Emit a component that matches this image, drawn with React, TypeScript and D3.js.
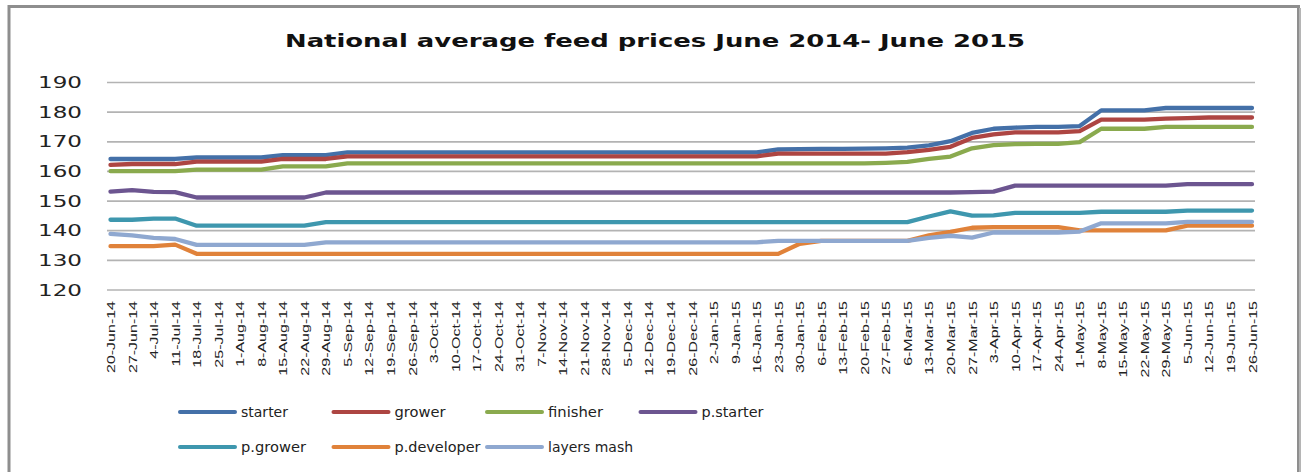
import React from "react";
import * as d3 from "d3";

// weekly dates on the category axis
const dates = [
  "20-Jun-14", "27-Jun-14", "4-Jul-14", "11-Jul-14", "18-Jul-14", "25-Jul-14",
  "1-Aug-14", "8-Aug-14", "15-Aug-14", "22-Aug-14", "29-Aug-14", "5-Sep-14",
  "12-Sep-14", "19-Sep-14", "26-Sep-14", "3-Oct-14", "10-Oct-14", "17-Oct-14",
  "24-Oct-14", "31-Oct-14", "7-Nov-14", "14-Nov-14", "21-Nov-14", "28-Nov-14",
  "5-Dec-14", "12-Dec-14", "19-Dec-14", "26-Dec-14", "2-Jan-15", "9-Jan-15",
  "16-Jan-15", "23-Jan-15", "30-Jan-15", "6-Feb-15", "13-Feb-15", "20-Feb-15",
  "27-Feb-15", "6-Mar-15", "13-Mar-15", "20-Mar-15", "27-Mar-15", "3-Apr-15",
  "10-Apr-15", "17-Apr-15", "24-Apr-15", "1-May-15", "8-May-15", "15-May-15",
  "22-May-15", "29-May-15", "5-Jun-15", "12-Jun-15", "19-Jun-15", "26-Jun-15",
];

const yTicks = [120, 130, 140, 150, 160, 170, 180, 190];

// values, one per week
const starter = [
  164.2, 164.2, 164.2, 164.2, 164.7, 164.7, 164.7, 164.7, 165.5, 165.5,
  165.5, 166.4, 166.4, 166.4, 166.4, 166.4, 166.4, 166.4, 166.4, 166.4,
  166.4, 166.4, 166.4, 166.4, 166.4, 166.4, 166.4, 166.4, 166.4, 166.4,
  166.4, 167.4, 167.5, 167.6, 167.6, 167.7, 167.8, 168.0, 168.8, 170.2,
  173.0, 174.4, 174.8, 175.0, 175.0, 175.3, 180.6, 180.6, 180.6, 181.4,
  181.4, 181.4, 181.4, 181.4,
];
const grower = [
  162.2, 162.5, 162.5, 162.5, 163.3, 163.3, 163.3, 163.3, 164.2, 164.2,
  164.2, 165.1, 165.1, 165.1, 165.1, 165.1, 165.1, 165.1, 165.1, 165.1,
  165.1, 165.1, 165.1, 165.1, 165.1, 165.1, 165.1, 165.1, 165.1, 165.1,
  165.1, 166.0, 166.0, 166.0, 166.0, 166.0, 166.0, 166.5, 167.3, 168.3,
  171.3, 172.5, 173.2, 173.2, 173.2, 173.6, 177.5, 177.5, 177.5, 177.8,
  178.0, 178.2, 178.2, 178.2,
];
const finisher = [
  160.1, 160.1, 160.1, 160.1, 160.6, 160.6, 160.6, 160.6, 161.7, 161.7,
  161.7, 162.7, 162.7, 162.7, 162.7, 162.7, 162.7, 162.7, 162.7, 162.7,
  162.7, 162.7, 162.7, 162.7, 162.7, 162.7, 162.7, 162.7, 162.7, 162.7,
  162.7, 162.7, 162.7, 162.7, 162.7, 162.7, 162.9, 163.2, 164.2, 165.0,
  167.8, 168.9, 169.2, 169.3, 169.3, 169.9, 174.4, 174.4, 174.4, 175.0,
  175.0, 175.0, 175.0, 175.0,
];
const pStarter = [
  153.2, 153.7, 153.1, 153.0, 151.2, 151.2, 151.2, 151.2, 151.2, 151.2,
  152.9, 152.9, 152.9, 152.9, 152.9, 152.9, 152.9, 152.9, 152.9, 152.9,
  152.9, 152.9, 152.9, 152.9, 152.9, 152.9, 152.9, 152.9, 152.9, 152.9,
  152.9, 152.9, 152.9, 152.9, 152.9, 152.9, 152.9, 152.9, 152.9, 152.9,
  153.0, 153.2, 155.2, 155.2, 155.2, 155.2, 155.2, 155.2, 155.2, 155.2,
  155.7, 155.7, 155.7, 155.7,
];
const pGrower = [
  143.7, 143.7, 144.1, 144.1, 141.7, 141.7, 141.7, 141.7, 141.7, 141.7,
  142.9, 142.9, 142.9, 142.9, 142.9, 142.9, 142.9, 142.9, 142.9, 142.9,
  142.9, 142.9, 142.9, 142.9, 142.9, 142.9, 142.9, 142.9, 142.9, 142.9,
  142.9, 142.9, 142.9, 142.9, 142.9, 142.9, 142.9, 142.9, 144.8, 146.5,
  145.1, 145.2, 146.0, 146.0, 146.0, 146.0, 146.4, 146.4, 146.4, 146.4,
  146.8, 146.8, 146.8, 146.8,
];
const pDeveloper = [
  134.8, 134.8, 134.8, 135.3, 132.2, 132.2, 132.2, 132.2, 132.2, 132.2,
  132.2, 132.2, 132.2, 132.2, 132.2, 132.2, 132.2, 132.2, 132.2, 132.2,
  132.2, 132.2, 132.2, 132.2, 132.2, 132.2, 132.2, 132.2, 132.2, 132.2,
  132.2, 132.2, 135.6, 136.6, 136.6, 136.6, 136.6, 136.6, 138.4, 139.6,
  141.0, 141.2, 141.2, 141.2, 141.2, 140.1, 140.1, 140.1, 140.1, 140.1,
  141.7, 141.7, 141.7, 141.7,
];
const layersMash = [
  138.9, 138.4, 137.6, 137.2, 135.2, 135.2, 135.2, 135.2, 135.2, 135.2,
  136.1, 136.1, 136.1, 136.1, 136.1, 136.1, 136.1, 136.1, 136.1, 136.1,
  136.1, 136.1, 136.1, 136.1, 136.1, 136.1, 136.1, 136.1, 136.1, 136.1,
  136.1, 136.6, 136.6, 136.6, 136.6, 136.6, 136.6, 136.6, 137.6, 138.3,
  137.7, 139.4, 139.4, 139.4, 139.4, 139.7, 142.5, 142.5, 142.5, 142.5,
  143.0, 143.0, 143.0, 143.0,
];

const seriesNames = ["starter", "grower", "finisher", "p.starter", "p.grower", "p.developer", "layers mash"];
const seriesValues = [starter, grower, finisher, pStarter, pGrower, pDeveloper, layersMash];
const seriesColors = ["#4470a8", "#ad4542", "#8aaa4e", "#6c5590", "#3e97ae", "#e0823a", "#8fa8d0"];
// measured widths of the legend labels in the picture
const legendWidths = [47, 51, 55, 62, 65, 86, 85];

export default function App() {
  const width = 1303;
  const height = 472;
  const plot = { left: 107, right: 1255, top: 82.5, bottom: 290 };

  const x = d3
    .scalePoint<string>()
    .domain(dates)
    .range([110.5, 1252]);

  const y = d3
    .scaleLinear()
    .domain([120, 190])
    .range([plot.bottom, plot.top]);

  const line = d3
    .line<number>()
    .x((d, i) => x(dates[i]) as number)
    .y((d) => y(d));

  return (
    <svg
      width={width}
      height={height}
      style={{ position: "absolute", left: 0, top: 0, background: "#fff" }}
    >
      {/* chart frame */}
      <rect x={9} y={6.5} width={1289.5} height={480} fill="#fff" stroke="#8e8e8e" strokeWidth={3} />
      <line x1={1300} y1={8} x2={1300} y2={472} stroke="#b5b5b5" strokeWidth={2} />

      <text
        x={655}
        y={47}
        textAnchor="middle"
        fontFamily="DejaVu Sans"
        fontWeight="bold"
        fontSize={18}
        textLength={740}
        lengthAdjust="spacingAndGlyphs"
        fill="#111"
      >
        National average feed prices June 2014- June 2015
      </text>

      {/* gridlines and y labels */}
      {yTicks.map((t) => (
        <g key={t}>
          <line x1={plot.left} x2={plot.right} y1={y(t)} y2={y(t)} stroke="#b3b3b3" strokeWidth={1.7} />
          <text
            x={82}
            y={y(t) + 5.5}
            textAnchor="end"
            fontFamily="DejaVu Sans"
            fontSize={15}
            textLength={44}
            lengthAdjust="spacingAndGlyphs"
            fill="#222"
          >
            {t}
          </text>
        </g>
      ))}

      {/* x labels */}
      {dates.map((d) => (
        <text
          key={d}
          transform={`translate(${(x(d) as number) + 4.5}, 301) rotate(-90) scale(1.6, 1)`}
          textAnchor="end"
          fontFamily="Liberation Sans"
          fontSize={10}
          fill="#222"
        >
          {d}
        </text>
      ))}

      {/* series */}
      {seriesValues.map((vals, i) => (
        <path
          key={seriesNames[i]}
          d={line(vals) as string}
          fill="none"
          stroke={seriesColors[i]}
          strokeWidth={4.3}
          strokeLinejoin="round"
          strokeLinecap="round"
        />
      ))}

      {/* legend */}
      {seriesNames.map((name, i) => {
        const col = i < 4 ? i : i - 4;
        const row = i < 4 ? 0 : 1;
        const lx = 180 + col * 153.5;
        const ly = 412 + row * 35;
        return (
          <g key={name}>
            <line x1={lx} x2={lx + 55} y1={ly} y2={ly} stroke={seriesColors[i]} strokeWidth={4} strokeLinecap="round" />
            <text
              x={lx + 61}
              y={ly + 5}
              fontFamily="DejaVu Sans"
              fontSize={14.5}
              textLength={legendWidths[i]}
              lengthAdjust="spacingAndGlyphs"
              fill="#222"
            >
              {name}
            </text>
          </g>
        );
      })}
    </svg>
  );
}
